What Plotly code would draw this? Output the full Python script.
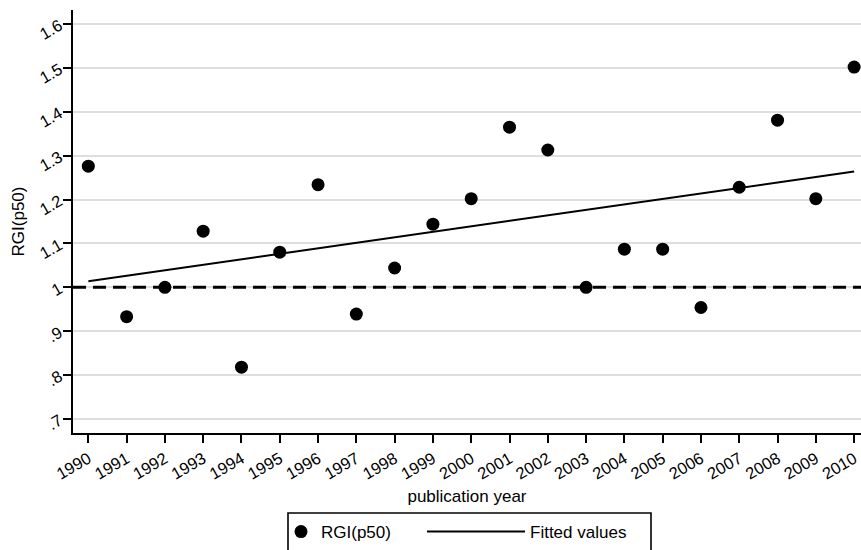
import numpy as np
import plotly.graph_objects as go

# ---- data ----
years = list(range(1990, 2011))
rgi_p50 = [1.276, 0.933, 1.000, 1.128, 0.818, 1.080, 1.234, 0.939, 1.044, 1.144,
           1.202, 1.365, 1.313, 1.000, 1.087, 1.087, 0.954, 1.228, 1.381, 1.202, 1.502]
y_tick_vals = [0.7, 0.8, 0.9, 1.0, 1.1, 1.2, 1.3, 1.4, 1.5, 1.6]
y_tick_text = [".7", ".8", ".9", "1", "1.1", "1.2", "1.3", "1.4", "1.5", "1.6"]
x_tick_vals = years
x_tick_text = [str(y) for y in years]
reference_level = 1.0

# linear fit (Fitted values)
slope, intercept = np.polyfit(years, rgi_p50, 1)
fitted = [slope * y + intercept for y in years]

W, H = 861, 550
ML, MR, MT, MB = 73, 0, 10, 117
FONT = "Liberation Sans, Arial, Helvetica, sans-serif"

fig = go.Figure()
fig.add_trace(go.Scatter(
    x=years, y=rgi_p50, mode="markers", name="RGI(p50)",
    marker=dict(color="black", size=13, line=dict(width=0)),
    legend="legend", showlegend=True,
))
fig.add_trace(go.Scatter(
    x=years, y=fitted, mode="lines", name="Fitted values",
    line=dict(color="black", width=2),
    legend="legend2", showlegend=True,
))

fig.add_hline(y=reference_level, line=dict(color="black", width=3, dash="13px,7px"))

# legend frame
def px_to_paper_x(px):
    return (px - ML) / (W - ML - MR)

def px_to_paper_y(py):
    return (H - MB - py) / (H - MT - MB)

fig.add_shape(type="rect", xref="paper", yref="paper",
              x0=px_to_paper_x(288), x1=px_to_paper_x(651),
              y0=px_to_paper_y(513), y1=px_to_paper_y(575),
              line=dict(color="black", width=1.6), fillcolor="rgba(0,0,0,0)")

fig.update_layout(
    width=W, height=H,
    showlegend=True,
    margin=dict(l=ML, r=MR, t=MT, b=MB, pad=0),
    paper_bgcolor="white", plot_bgcolor="white",
    font=dict(family=FONT, size=16, color="black"),
    legend=dict(
        xref="container", yref="container",
        x=281 / W, y=1 - 514 / H, xanchor="left", yanchor="top",
        orientation="h", bgcolor="rgba(0,0,0,0)", borderwidth=0,
        font=dict(size=17), itemwidth=30, visible=True,
    ),
    legend2=dict(
        xref="container", yref="container",
        x=422 / W, y=1 - 514 / H, xanchor="left", yanchor="top",
        orientation="h", bgcolor="rgba(0,0,0,0)", borderwidth=0,
        font=dict(size=17), itemwidth=98, visible=True,
    ),
    xaxis=dict(
        range=[1989.6, 2010.18],
        tickmode="array", tickvals=x_tick_vals, ticktext=x_tick_text,
        tickangle=-30, ticks="outside", ticklen=8, tickwidth=2, tickcolor="black",
        showline=True, linecolor="black", linewidth=2,
        showgrid=False, zeroline=False,
        tickfont=dict(size=16.5),
        title=dict(text="publication year", font=dict(size=17), standoff=8),
        automargin=False,
    ),
    yaxis=dict(
        range=[0.668, 1.632],
        tickmode="array", tickvals=y_tick_vals, ticktext=y_tick_text,
        tickangle=-30, ticks="outside", ticklen=8, tickwidth=2, tickcolor="black",
        showline=True, linecolor="black", linewidth=2,
        showgrid=True, gridcolor="#dedede", gridwidth=1.6,
        zeroline=False,
        tickfont=dict(size=16.5),
        title=dict(text="RGI(p50)", font=dict(size=17), standoff=8),
        automargin=False,
    ),
)

fig.write_html("out.html")
